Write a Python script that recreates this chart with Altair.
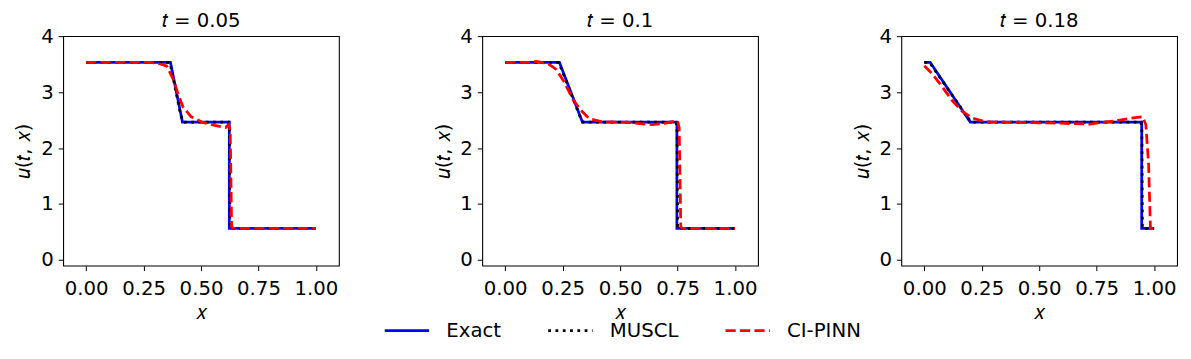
import altair as alt
import pandas as pd

series = ["Exact", "MUSCL", "CI-PINN"]
colors = ["#0000ff", "#000000", "#ff0000"]
dashes = [[1, 0], [2.8, 4.6], [10.3, 4.4]]
titles = ["𝑡 = 0.05", "𝑡 = 0.1", "𝑡 = 0.18"]
x_ticks = [0.0, 0.25, 0.5, 0.75, 1.0]
y_ticks = [0, 1, 2, 3, 4]

# t = 0.05
exact_x_1 = [0.0, 0.367, 0.419, 0.623, 0.623, 1.0]
exact_u_1 = [3.53, 3.53, 2.465, 2.465, 0.567, 0.567]
muscl_x_1 = [0.0, 0.365, 0.375, 0.41, 0.422, 0.62, 0.624, 0.626, 1.0]
muscl_u_1 = [3.53, 3.53, 3.33, 2.62, 2.465, 2.465, 2.3, 0.567, 0.567]
pinn_x_1 = [0.0, 0.28, 0.307, 0.35, 0.379, 0.40, 0.421, 0.457, 0.507, 0.564,
            0.607, 0.621, 0.627, 0.633, 0.64, 1.0]
pinn_u_1 = [3.53, 3.53, 3.52, 3.47, 3.23, 2.97, 2.74, 2.56, 2.46, 2.40,
            2.37, 2.42, 2.30, 0.6, 0.567, 0.567]

# t = 0.1
exact_x_2 = [0.0, 0.236, 0.336, 0.747, 0.747, 1.0]
exact_u_2 = [3.53, 3.53, 2.465, 2.465, 0.567, 0.567]
muscl_x_2 = [0.0, 0.234, 0.245, 0.325, 0.338, 0.744, 0.748, 0.750, 1.0]
muscl_u_2 = [3.53, 3.53, 3.41, 2.57, 2.465, 2.465, 2.3, 0.567, 0.567]
pinn_x_2 = [0.0, 0.10, 0.136, 0.186, 0.221, 0.257, 0.293, 0.329, 0.364, 0.421,
            0.536, 0.636, 0.693, 0.75, 0.757, 0.764, 0.77, 1.0]
pinn_u_2 = [3.53, 3.53, 3.55, 3.51, 3.41, 3.18, 2.88, 2.68, 2.53, 2.47,
            2.46, 2.42, 2.44, 2.49, 2.36, 0.6, 0.567, 0.567]

# t = 0.18
exact_x_3 = [0.0, 0.026, 0.2, 0.946, 0.946, 1.0]
exact_u_3 = [3.53, 3.53, 2.465, 2.465, 0.567, 0.567]
muscl_x_3 = [0.0, 0.024, 0.036, 0.19, 0.205, 0.943, 0.947, 0.949, 1.0]
muscl_u_3 = [3.53, 3.53, 3.45, 2.54, 2.465, 2.465, 2.3, 0.567, 0.567]
pinn_x_3 = [0.0, 0.036, 0.079, 0.121, 0.164, 0.207, 0.264, 0.393, 0.536, 0.721,
            0.836, 0.893, 0.95, 0.964, 0.976, 0.984, 1.0]
pinn_u_3 = [3.47, 3.32, 3.09, 2.85, 2.66, 2.54, 2.47, 2.46, 2.45, 2.43,
            2.49, 2.53, 2.56, 2.42, 1.71, 0.567, 0.567]

panel_data = [
    [(exact_x_1, exact_u_1), (muscl_x_1, muscl_u_1), (pinn_x_1, pinn_u_1)],
    [(exact_x_2, exact_u_2), (muscl_x_2, muscl_u_2), (pinn_x_2, pinn_u_2)],
    [(exact_x_3, exact_u_3), (muscl_x_3, muscl_u_3), (pinn_x_3, pinn_u_3)],
]

FONT = "DejaVu Sans"
FS = 20

legend = alt.Legend(
    title=None, orient="none", legendX=325, legendY=275, direction="horizontal",
    symbolType="stroke", symbolSize=2025, symbolStrokeWidth=2.8,
    labelFontSize=FS, labelFont=FONT, labelColor="black", labelOffset=16,
    columnPadding=41, padding=0,
)


def make_panel(i):
    rows = []
    for s, (xs, us) in zip(series, panel_data[i]):
        for k, (xv, uv) in enumerate(zip(xs, us)):
            rows.append({"series": s, "x": xv, "u": uv, "idx": k})
    df = pd.DataFrame(rows)
    base = alt.Chart(df)
    layers = []
    for s in series:
        layers.append(
            base.transform_filter(alt.datum.series == s)
            .mark_line(strokeWidth=2.8, clip=True)
            .encode(
                x=alt.X("x:Q", scale=alt.Scale(domain=[-0.1, 1.1], nice=False, zero=False),
                        axis=alt.Axis(values=x_ticks, format=".2f", title="𝑥")),
                y=alt.Y("u:Q", scale=alt.Scale(domain=[-0.1, 4], nice=False, zero=False),
                        axis=alt.Axis(values=y_ticks, format="d", title="𝑢(𝑡, 𝑥)")),
                color=alt.Color("series:N", scale=alt.Scale(domain=series, range=colors), legend=legend),
                strokeDash=alt.StrokeDash("series:N", scale=alt.Scale(domain=series, range=dashes), legend=legend),
                order=alt.Order("idx:Q"),
            )
        )
    return alt.layer(*layers).properties(
        width=280, height=233,
        title=alt.TitleParams(titles[i], font=FONT, fontSize=FS, fontWeight="normal",
                              baseline="alphabetic", offset=-21, anchor="middle", color="black"),
    )


chart = (
    alt.hconcat(make_panel(0), make_panel(1), make_panel(2), spacing=93.5)
    .properties(padding={"top": 0, "left": 5, "right": 5, "bottom": 5})
    .configure_view(stroke="black", strokeWidth=1.1)
    .configure_axis(
        grid=False, domain=False, tickColor="black", tickSize=5, tickWidth=1,
        labelColor="black", titleColor="black", labelFont=FONT, titleFont=FONT,
        labelFontSize=FS, titleFontSize=FS, titleFontWeight="normal", labelPadding=5,
    )
    .configure_axisY(titlePadding=7)
    .configure_axisX(titlePadding=4.5, labelPadding=8)
)

chart.save("out.html", embed_options={"renderer": "svg", "actions": False})
